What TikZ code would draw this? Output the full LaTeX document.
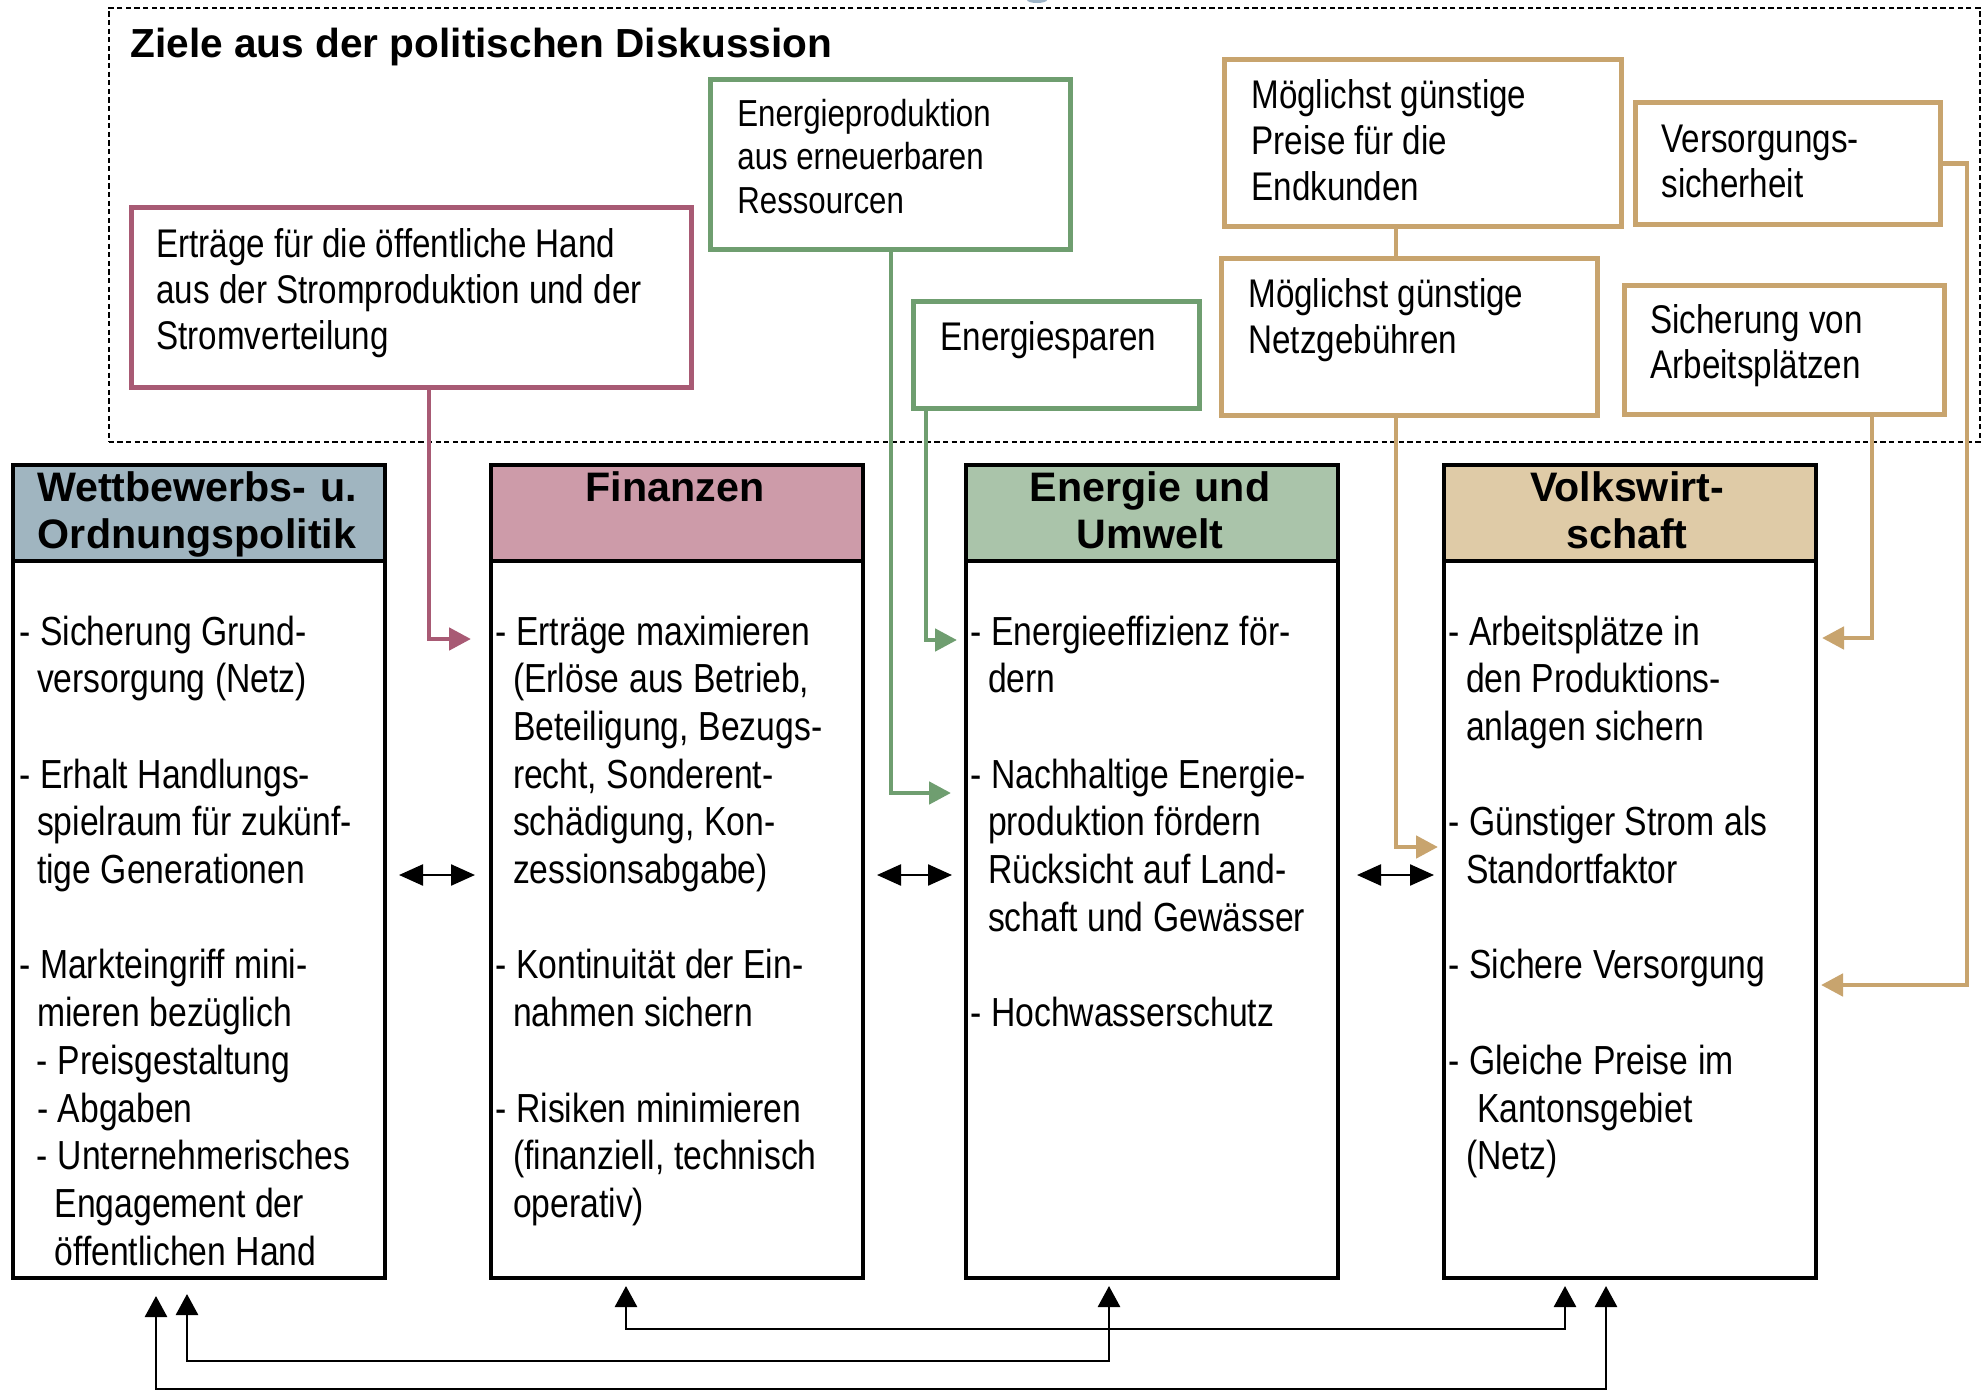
\documentclass[tikz,border=0pt]{standalone}
\usepackage{fontspec}
\setmainfont{Liberation Sans}[FakeStretch=0.83]
\newfontfamily\widefont{Liberation Sans}
\usetikzlibrary{arrows.meta}

\definecolor{pinkc}{HTML}{A85A74}
\definecolor{greenc}{HTML}{6F9E70}
\definecolor{tanc}{HTML}{C8A46E}
\definecolor{hdA}{HTML}{A0B5C0}
\definecolor{hdB}{HTML}{CD9BA9}
\definecolor{hdC}{HTML}{AAC4AA}
\definecolor{hdD}{HTML}{DFCBA7}
\definecolor{bluebit}{HTML}{9DB3C6}

\newcommand\ind{\hspace*{8.8pt}}
\newcommand\bodyfont{\fontsize{20.3pt}{23.85pt}\selectfont}
\newcommand\goalfont[1]{\fontsize{20pt}{#1}\selectfont}
\newcommand\smallgoalfont{\fontsize{18.8pt}{21.8pt}\selectfont}

\begin{document}
\begin{tikzpicture}[x=0.5pt,y=-0.5pt,
  zone/.style={draw, dash pattern=on 2.6pt off 1.7pt, line width=0.8pt, anchor=north west, inner sep=0pt, minimum width=935.5pt, minimum height=217pt},
  goalbox/.style={draw=#1, line width=2.4pt, inner sep=0pt, anchor=north west, fill=white},
  goaltext/.style={anchor=base west, inner sep=0pt, text width=300pt, align=flush left, font=\goalfont{#1}, execute at begin node={\spaceskip=4.6pt\relax}},
  colhead/.style={draw, fill=#1, line width=2pt, inner sep=0pt, anchor=north west, minimum width=186pt, minimum height=48pt},
  colbody/.style={draw, fill=white, line width=2pt, inner sep=0pt, anchor=north west, minimum width=186pt, minimum height=358.5pt},
  headtext/.style={anchor=base, inner sep=0pt, text width=184pt, align=center, font=\widefont\bfseries\fontsize{20.6pt}{23.5pt}\selectfont},
  bodytext/.style={anchor=base west, inner sep=0pt, text width=200pt, align=flush left, font=\bodyfont, execute at begin node={\spaceskip=4.8pt\relax}},
  conn/.style={draw=#1, line width=2.4pt, -{Triangle[length=11pt,width=11pt]}},
  plainconn/.style={draw=#1, line width=2.4pt},
  dbl/.style={line width=1.2pt, {Triangle[length=12pt,width=10.5pt]}-{Triangle[length=12pt,width=10.5pt]}},
  bot/.style={line width=1.4pt, {Triangle[length=10.5pt,width=11pt]}-{Triangle[length=10.5pt,width=11pt]}}
]
\useasboundingbox (0,0) rectangle (1988,1392);
\fill[white] (0,0) rectangle (1988,1392);
\fill[bluebit] (1037,0) ellipse [x radius=10, y radius=3];

% dashed zone and title
\node[zone] (zone) at (108,7) {};
\node[anchor=base west, inner sep=0pt, font=\widefont\bfseries\fontsize{20.3pt}{24pt}\selectfont] (title) at (130,57) {Ziele aus der politischen Diskussion};

% columns
\node[colhead=hdA] (h1) at (11,463) {};
\node[colbody] (b1) at (11,559) {};
\node[colhead=hdB] (h2) at (489,463) {};
\node[colbody] (b2) at (489,559) {};
\node[colhead=hdC] (h3) at (964,463) {};
\node[colbody] (b3) at (964,559) {};
\node[colhead=hdD] (h4) at (1442,463) {};
\node[colbody] (b4) at (1442,559) {};

\node[headtext] (ht1) at (197,501) {Wettbewerbs- u.\\Ordnungspolitik};
\node[headtext] (ht2) at (675,501) {Finanzen};
\node[headtext] (ht3) at (1150,501) {Energie und\\Umwelt};
\node[headtext] (ht4) at (1627,501) {Volkswirt-\\schaft};

\node[bodytext] (bt1) at (19,645) {- Sicherung Grund-\\
\ind versorgung (Netz)\\
\mbox{}\\
- Erhalt Handlungs-\\
\ind spielraum für zukünf-\\
\ind tige Generationen\\
\mbox{}\\
- Markteingriff mini-\\
\ind mieren bezüglich\\
\ind - Preisgestaltung\\
\ind - Abgaben\\
\ind - Unternehmerisches\\
\ind\ind Engagement der\\
\ind\ind öffentlichen Hand};

\node[bodytext] (bt2) at (495,645) {- Erträge maximieren\\
\ind (Erlöse aus Betrieb,\\
\ind Beteiligung, Bezugs-\\
\ind recht, Sonderent-\\
\ind schädigung, Kon-\\
\ind zessionsabgabe)\\
\mbox{}\\
- Kontinuität der Ein-\\
\ind nahmen sichern\\
\mbox{}\\
- Risiken minimieren\\
\ind (finanziell, technisch\\
\ind operativ)};

\node[bodytext] (bt3) at (970,645) {- Energieeffizienz för-\\
\ind dern\\
\mbox{}\\
- Nachhaltige Energie-\\
\ind produktion fördern\\
\ind Rücksicht auf Land-\\
\ind schaft und Gewässer\\
\mbox{}\\
- Hochwasserschutz};

\node[bodytext] (bt4) at (1448,645) {- Arbeitsplätze in\\
\ind den Produktions-\\
\ind anlagen sichern\\
\mbox{}\\
- Günstiger Strom als\\
\ind Standortfaktor\\
\mbox{}\\
- Sichere Versorgung\\
\mbox{}\\
- Gleiche Preise im\\
\ind\hspace*{5.5pt}Kantonsgebiet\\
\ind (Netz)};

% goal boxes
\node[goalbox=pinkc, minimum width=280pt, minimum height=90pt] (gpink) at (129,205) {};
\node[goaltext=23pt] (tpink) at (156,257) {Erträge für die öffentliche Hand\\aus der Stromproduktion und der\\Stromverteilung};

\node[goalbox=greenc, minimum width=180pt, minimum height=85pt] (gren) at (708,77) {};
\node[goaltext=21.8pt, font=\smallgoalfont, execute at begin node={\spaceskip=4.3pt\relax}] (tren) at (737,126) {Energieproduktion\\aus erneuerbaren\\Ressourcen};

\node[goalbox=greenc, minimum width=143pt, minimum height=53.5pt] (gspar) at (911,299) {};
\node[goaltext=23pt] (tspar) at (940,350) {Energiesparen};

\node[goalbox=tanc, minimum width=198.5pt, minimum height=83.5pt] (gpreis) at (1222,57) {};
\node[goaltext=23pt] (tpreis) at (1251,108) {Möglichst günstige\\Preise für die\\Endkunden};

\node[goalbox=tanc, minimum width=188pt, minimum height=78.5pt] (gnetz) at (1219,256) {};
\node[goaltext=23pt] (tnetz) at (1248,307) {Möglichst günstige\\Netzgebühren};

\node[goalbox=tanc, minimum width=152.5pt, minimum height=61pt] (gvers) at (1633,100) {};
\node[goaltext=22.7pt] (tvers) at (1661,152) {Versorgungs-\\sicherheit};

\node[goalbox=tanc, minimum width=160pt, minimum height=64.5pt] (garb) at (1622,283) {};
\node[goaltext=22.5pt] (tarb) at (1650,333) {Sicherung von\\Arbeitsplätzen};

% coloured connectors
\coordinate (pturn) at (429,639);
\coordinate (ptip) at (471,639);
\draw[conn=pinkc] (gpink.south -| pturn) -- (pturn) -- (ptip);

\coordinate (g1turn) at (891,793);
\coordinate (g1tip) at (951,793);
\draw[conn=greenc] (gren.south -| g1turn) -- (g1turn) -- (g1tip);

\coordinate (g2turn) at (926,640);
\coordinate (g2tip) at (957,640);
\draw[conn=greenc] (gspar.south -| g2turn) -- (g2turn) -- (g2tip);

\coordinate (nturn) at (1396,847);
\coordinate (ntip) at (1438,847);
\draw[plainconn=tanc] (gpreis.south -| nturn) -- (gnetz.north -| nturn);
\draw[conn=tanc] (gnetz.south -| nturn) -- (nturn) -- (ntip);

\coordinate (vturn) at (1967,985);
\coordinate (vtip) at (1821,985);
\draw[conn=tanc] (gvers.east) -| (vturn) -- (vtip);

\coordinate (aturn) at (1872,638);
\coordinate (atip) at (1822,638);
\draw[conn=tanc] (garb.south -| aturn) -- (aturn) -- (atip);

% double arrows between columns
\coordinate (ay) at (0,875);
\draw[dbl, shorten <=6pt, shorten >=7pt] (b1.east |- ay) -- (b2.west |- ay);
\draw[dbl, shorten <=6pt, shorten >=6pt] (b2.east |- ay) -- (b3.west |- ay);
\draw[dbl, shorten <=8.5pt, shorten >=4pt] (b3.east |- ay) -- (b4.west |- ay);

% bottom connectors
\coordinate (C1) at (626,1329);
\coordinate (C2) at (1565,1329);
\draw[bot, shorten <=3pt, shorten >=3pt] (b2.south -| C1) -- (C1) -- (C2) -- (b4.south -| C2);

\coordinate (B1) at (187,1361);
\coordinate (B2) at (1109,1361);
\draw[bot, shorten <=7pt, shorten >=3pt] (b1.south -| B1) -- (B1) -- (B2) -- (b3.south -| B2);

\coordinate (A1) at (156,1389);
\coordinate (A2) at (1606,1389);
\draw[bot, shorten <=8pt, shorten >=3pt] (b1.south -| A1) -- (A1) -- (A2) -- (b4.south -| A2);
\end{tikzpicture}
\end{document}
